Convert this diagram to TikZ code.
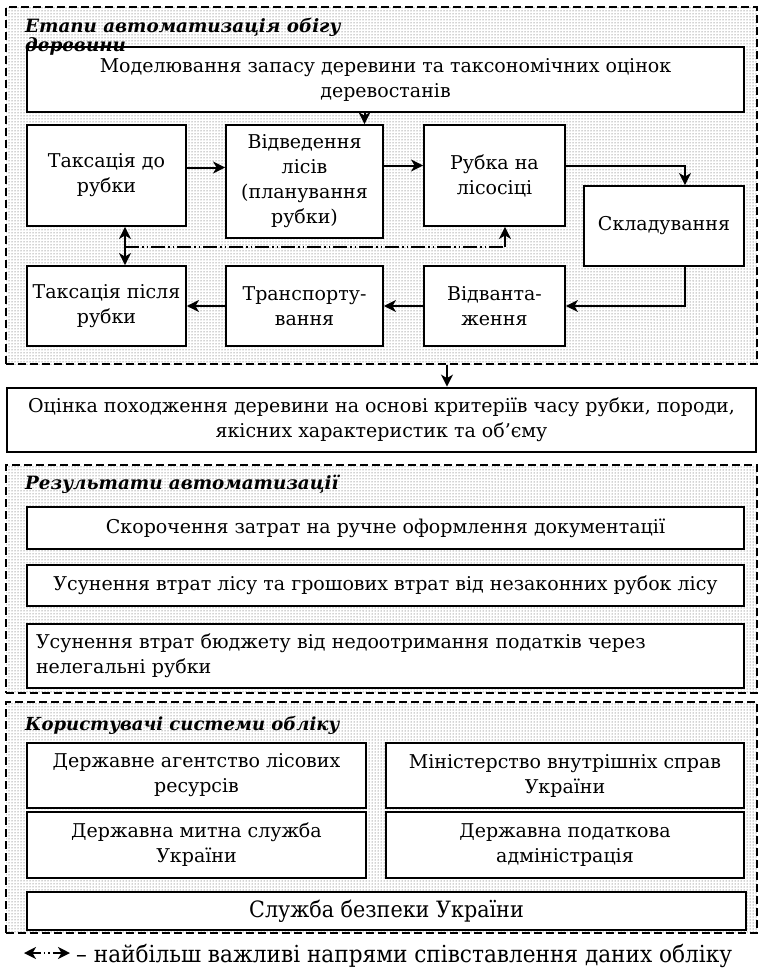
\documentclass[tikz,border=0pt]{standalone}
\usepackage{fontspec}
\setmainfont{DejaVu Serif}
\newfontfamily\condfont[FakeStretch=0.92]{DejaVu Serif}
\usetikzlibrary{arrows.meta,patterns,calc}
\tikzset{
  box/.style={draw, line width=1.9pt, fill=white, align=center, inner sep=0pt,
    font=\fontsize{19}{25}\selectfont},
  panel/.style={draw, line width=2.2pt, dash pattern=on 8pt off 4pt,
    pattern=dots, pattern color=black!75, inner sep=0pt},
  tip/.style={Stealth[length=12pt,width=12pt,inset=3.5pt]},
  arr/.style={line width=2pt, -{Stealth[length=12pt,width=12pt,inset=3.5pt]}},
  darr/.style={line width=2pt, {Stealth[length=12pt,width=12pt,inset=3.5pt]}-{Stealth[length=12pt,width=12pt,inset=3.5pt]}},
  ddd/.style={line width=2pt, dash pattern=on 14pt off 3pt on 1.5pt off 3pt on 1.5pt off 3pt},
  ttl/.style={anchor=base west, font=\fontsize{18.3}{19}\selectfont\bfseries\itshape, inner sep=0pt, align=left},
}
\begin{document}
\begin{tikzpicture}[x=1pt,y=-1pt]
\useasboundingbox (0,0) rectangle (759,974);
% panels
\node[panel, minimum width=751pt, minimum height=357pt] (p1) at (381.5,185.5) {};
\node[panel, minimum width=751pt, minimum height=228pt] (p2) at (381.5,579) {};
\node[panel, minimum width=751pt, minimum height=231pt] (p3) at (381.5,817.5) {};
% panel 1 boxes
\node[box, minimum width=717pt, minimum height=65pt] (mod) at (385.5,79.5)
  {Моделювання запасу деревини та таксономічних оцінок\\деревостанів};
\node[box, minimum width=159pt, minimum height=101pt] (t1) at (106.5,175.5) {Таксація до\\рубки};
\node[box, minimum width=157pt, minimum height=113pt] (vid) at (304.5,181.5) {Відведення\\лісів\\(планування\\рубки)};
\node[box, minimum width=141pt, minimum height=101pt] (rub) at (494.5,175.5) {Рубка на\\лісосіці};
\node[box, minimum width=160pt, minimum height=80pt] (skl) at (664,226) {Складування};
\node[box, minimum width=159pt, minimum height=80pt] (t2) at (106.5,306) {Таксація після\\рубки};
\node[box, minimum width=157pt, minimum height=80pt] (tr) at (304.5,306) {Транспорту-\\вання};
\node[box, minimum width=141pt, minimum height=80pt] (vdv) at (494.5,306) {Відванта-\\ження};
% arrows panel 1
\draw[arr] ([xshift=60pt]vid.north |- mod.south) -- ([xshift=60pt]vid.north);
\draw[arr] ([yshift=8pt]t1.east) -- ([yshift=8pt]t1.east -| vid.west);
\draw[arr] ([yshift=10pt]rub.west -| vid.east) -- ([yshift=10pt]rub.west);
\draw[arr] ([yshift=10pt]rub.east) -| ([xshift=21pt]skl.north);
\draw[arr] ([xshift=21pt]skl.south) |- (vdv.east);
\draw[arr] (vdv.west) -- (tr.east);
\draw[arr] (tr.west) -- (t2.east);
\draw[darr] ([xshift=18.5pt]t1.south) -- ([xshift=18.5pt]t2.north);
\coordinate (j1) at (125,247);
\coordinate (j2) at (505,247);
\draw[ddd] (j1) -- (j2);
\draw[arr] (j2) -- (rub.south -| j2);
% evaluation box
\node[box, line width=2.8pt, minimum width=749pt, minimum height=64pt] (ev) at (381.5,420)
  {Оцінка походження деревини на основі критеріїв часу рубки, породи,\\якісних характеристик та об’єму};
\draw[arr] (p1.south -| 447,0) -- (ev.north -| 447,0);
% panel 2 boxes
\node[box, minimum width=717pt, minimum height=42pt] (r1) at (385.5,528) {Скорочення затрат на ручне оформлення документації};
\node[box, minimum width=717pt, minimum height=41pt] (r2) at (385.5,585.5) {Усунення втрат лісу та грошових втрат від незаконних рубок лісу};
\node[box, minimum width=717pt, minimum height=64pt, align=left, text width=699pt] (r3) at (385.5,656)
  {Усунення втрат бюджету від недоотримання податків через\\нелегальні рубки};
% panel 3 boxes
\node[box, minimum width=339pt, minimum height=65pt] (u1) at (196.5,775.5) {Державне агентство лісових\\ресурсів};
\node[box, minimum width=339pt, minimum height=66pt] (u2) at (196.5,845) {Державна митна служба\\України};
\node[box, minimum width=358pt, minimum height=65pt] (u3) at (565,775.5) {Міністерство внутрішніх справ\\України};
\node[box, minimum width=358pt, minimum height=66pt] (u4) at (565,845) {Державна податкова\\адміністрація};
\node[box, minimum width=719pt, minimum height=38pt, font=\fontsize{22.5}{25}\condfont] (u5) at (386.5,911) {Служба безпеки України};
% titles
\node[ttl] (h1) at (25,52) {Етапи автоматизація обігу\\деревини};
\node[ttl] (h2) at (25,489) {Результати автоматизації};
\node[ttl, font=\fontsize{18}{19}\selectfont\bfseries\itshape] (h3) at (25,730) {Користувачі системи обліку};
% legend
\coordinate (l1) at (24,953);
\coordinate (l2) at (70,953);
\draw[ddd, dash pattern=on 9pt off 3pt on 1.5pt off 3pt on 1.5pt off 3pt,
  {Stealth[length=12pt,width=12pt,inset=3.5pt]}-{Stealth[length=12pt,width=12pt,inset=3.5pt]}] (l1) -- (l2);
\node[anchor=base west, inner sep=0pt, font=\fontsize{23.5}{26}\condfont] (leg) at (76,962)
  {– найбільш важливі напрями співставлення даних обліку};
\end{tikzpicture}
\end{document}
